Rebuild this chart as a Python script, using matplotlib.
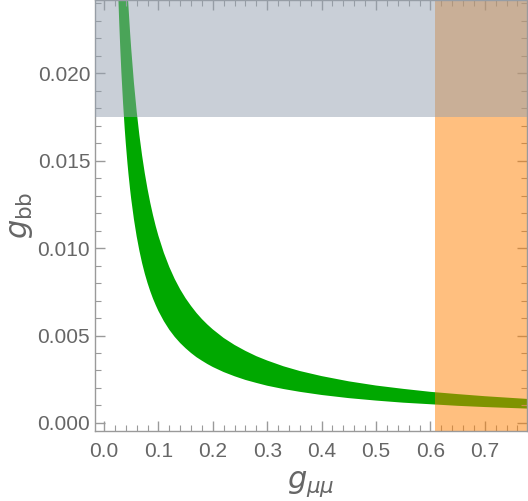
import matplotlib
matplotlib.use('Agg')
import matplotlib.pyplot as plt
from matplotlib.ticker import MultipleLocator

plt.rcParams['font.family'] = ['Liberation Sans', 'DejaVu Sans']
plt.rcParams['mathtext.fontset'] = 'dejavusans'

# Band edges (g_mumu, lower / upper g_bb)
g_mumu = [0.026, 0.028, 0.030, 0.032, 0.035, 0.038, 0.040, 0.043, 0.045, 0.048,
          0.050, 0.055, 0.060, 0.065, 0.070, 0.075, 0.080, 0.085, 0.090, 0.095,
          0.100, 0.110, 0.120, 0.130, 0.140, 0.150, 0.160, 0.170, 0.180, 0.190,
          0.200, 0.220, 0.240, 0.260, 0.280, 0.300, 0.330, 0.360, 0.400, 0.450,
          0.500, 0.550, 0.600, 0.650, 0.700, 0.780]
g_bb_low = [0.02462, 0.02286, 0.02133, 0.02000, 0.01829, 0.01684, 0.01600, 0.01488,
            0.01422, 0.01333, 0.01280, 0.01164, 0.01067, 0.00985, 0.00914, 0.00853,
            0.00800, 0.00753, 0.00711, 0.00674, 0.00640, 0.00582, 0.00533, 0.00492,
            0.00457, 0.00427, 0.00400, 0.00376, 0.00356, 0.00337, 0.00320, 0.00291,
            0.00267, 0.00246, 0.00229, 0.00213, 0.00194, 0.00178, 0.00160, 0.00142,
            0.00128, 0.00116, 0.00107, 0.00098, 0.00091, 0.00082]
g_bb_high = [0.04115, 0.03821, 0.03567, 0.03344, 0.03057, 0.02816, 0.02675, 0.02488,
             0.02378, 0.02229, 0.02140, 0.01945, 0.01783, 0.01646, 0.01529, 0.01427,
             0.01338, 0.01259, 0.01189, 0.01126, 0.01070, 0.00973, 0.00892, 0.00823,
             0.00764, 0.00713, 0.00669, 0.00629, 0.00594, 0.00563, 0.00535, 0.00486,
             0.00446, 0.00412, 0.00382, 0.00357, 0.00324, 0.00297, 0.00268, 0.00238,
             0.00214, 0.00195, 0.00178, 0.00165, 0.00153, 0.00137]

# Excluded regions
g_bb_limit = 0.0175
g_mumu_limit = 0.608

xlim = (-0.0165, 0.7775)
ylim = (-0.00046, 0.02418)

fig = plt.figure(figsize=(5.28, 5.01), dpi=100)
ax = fig.add_axes([0.18, 0.1397, 0.818, 0.8603])

ax.fill_between(g_mumu, g_bb_low, g_bb_high, color='#00a800', lw=0, zorder=1)
ax.axvspan(g_mumu_limit, xlim[1], color=(1.0, 0.5, 0.0), alpha=0.5, lw=0, zorder=2)
ax.axhspan(g_bb_limit, ylim[1], color=(0.58, 0.63, 0.69), alpha=0.5, lw=0, zorder=3)

ax.set_xlim(*xlim)
ax.set_ylim(*ylim)

ax.xaxis.set_major_locator(MultipleLocator(0.1))
ax.xaxis.set_minor_locator(MultipleLocator(0.02))
ax.yaxis.set_major_locator(MultipleLocator(0.005))
ax.yaxis.set_minor_locator(MultipleLocator(0.001))
ax.xaxis.set_major_formatter(plt.FuncFormatter(lambda v, p: f'{v:.1f}'))
ax.yaxis.set_major_formatter(plt.FuncFormatter(lambda v, p: f'{v:.3f}'))

fc = '#9a9a9a'
for s in ax.spines.values():
    s.set_color(fc)
    s.set_linewidth(1.0)
ax.tick_params(which='both', direction='in', top=True, right=True, color=fc,
               labelcolor='#666666', labelsize=15)
ax.tick_params(which='major', length=7, width=1)
ax.tick_params(which='minor', length=4, width=0.8)
ax.tick_params(axis='x', pad=8)

ax.set_xlabel(r'$g_{\mu\mu}$', fontsize=22, color='#666666', labelpad=6)
ax.set_ylabel(r'$g_{\mathrm{bb}}$', fontsize=22, color='#666666', labelpad=2)

fig.savefig('out.png', dpi=100)
